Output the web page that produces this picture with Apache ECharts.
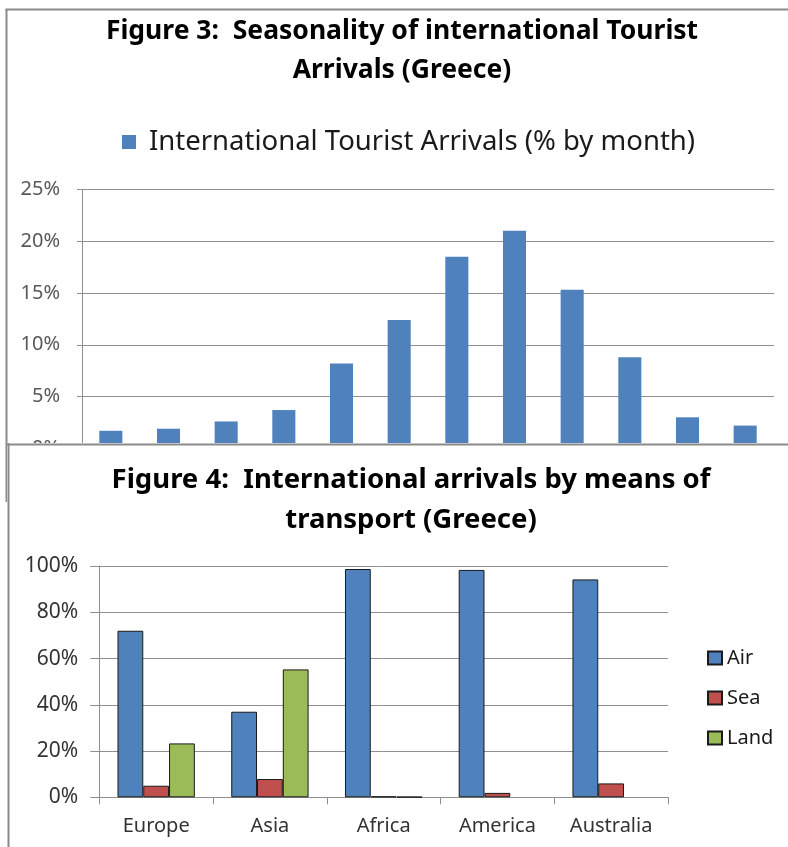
<!DOCTYPE html>
<html>
<head>
<meta charset="utf-8">
<script src="https://cdn.jsdelivr.net/npm/echarts@6/dist/echarts.min.js"></script>
<style>
  html, body { margin: 0; padding: 0; background: #fff; overflow: hidden; }
  #top { position: absolute; left: 0; top: 0; width: 788px; height: 502px; }
  #bottom { position: absolute; left: 7px; top: 443px; width: 781px; height: 404px; background: #fff; }
</style>
</head>
<body>
<div id="top"></div>
<div id="bottom"></div>
<script>
// ---------- Data ----------
const months = ['Jan', 'Feb', 'Mar', 'Apr', 'May', 'Jun', 'Jul', 'Aug', 'Sep', 'Oct', 'Nov', 'Dec'];
const arrivalsPct = [1.7, 1.9, 2.6, 3.7, 8.2, 12.4, 18.5, 21.0, 15.3, 8.8, 3.0, 2.2];
const topSeriesName = 'International Tourist Arrivals (% by month)';
const topAxisMax = 25;
const topAxisStep = 5;

const regions = ['Europe', 'Asia', 'Africa', 'America', 'Australia'];
const airPct = [72.0, 37.0, 98.7, 98.3, 94.2];
const seaPct = [5.0, 7.9, 0.4, 1.9, 6.0];
const landPct = [23.3, 55.3, 0.2, null, null];
const bottomAxisMax = 100;
const bottomAxisStep = 20;

const FONT = '"Noto Sans", "Open Sans", sans-serif';
const BORDER = '#8a8a8a';
const GRID = '#8f8f8f';

// ---------- Figure 3 ----------
const topChart = echarts.init(document.getElementById('top'), null, { renderer: 'canvas' });
topChart.setOption({
  animation: false,
  textStyle: { fontFamily: FONT },
  title: {
    text: 'Figure 3:  Seasonality of international Tourist\nArrivals (Greece)',
    left: 402,
    top: 12,
    padding: 0,
    textAlign: 'center',
    textStyle: { fontFamily: FONT, fontSize: 26.5, fontWeight: 'bold', color: '#000', lineHeight: 39 }
  },
  legend: {
    data: [topSeriesName],
    left: 117,
    top: 123,
    icon: 'rect',
    itemWidth: 14,
    itemHeight: 14,
    textStyle: { fontFamily: FONT, fontSize: 27.5, color: '#1a1a1a', padding: [0, 0, 0, 8] }
  },
  grid: { left: 82, top: 189.3, width: 692, height: 259.1, containLabel: false },
  xAxis: {
    type: 'category',
    data: months,
    axisLabel: { show: false },
    axisTick: { show: false },
    axisLine: { lineStyle: { color: BORDER, width: 1.5 } }
  },
  yAxis: {
    type: 'value',
    min: 0,
    max: topAxisMax,
    interval: topAxisStep,
    axisLabel: { formatter: '{value}%', fontFamily: FONT, fontSize: 20, color: '#595959', margin: 22 },
    axisLine: { show: true, lineStyle: { color: GRID } },
    axisTick: { show: true, length: 5, lineStyle: { color: GRID } },
    splitLine: { lineStyle: { color: GRID, width: 1 } }
  },
  series: [{
    name: topSeriesName,
    type: 'bar',
    data: arrivalsPct,
    barWidth: '40%',
    itemStyle: { color: '#4F81BD' }
  }],
  graphic: [
    { type: 'line', shape: { x1: 5.5, y1: 9.5, x2: 788, y2: 9.5 }, style: { stroke: BORDER, lineWidth: 2 }, z: 10 },
    { type: 'line', shape: { x1: 6.5, y1: 9, x2: 6.5, y2: 502 }, style: { stroke: BORDER, lineWidth: 2 }, z: 10 }
  ]
});

// ---------- Figure 4 ----------
const barBorder = { borderColor: '#1a1a1a', borderWidth: 1 };
const bottomChart = echarts.init(document.getElementById('bottom'), null, { renderer: 'canvas' });
bottomChart.setOption({
  animation: false,
  textStyle: { fontFamily: FONT },
  title: {
    text: 'Figure 4:  International arrivals by means of\ntransport (Greece)',
    left: 404,
    top: 17,
    padding: 0,
    textAlign: 'center',
    textStyle: { fontFamily: FONT, fontSize: 27.5, fontWeight: 'bold', color: '#000', lineHeight: 40 }
  },
  legend: {
    data: ['Air', 'Sea', 'Land'],
    orient: 'vertical',
    left: 695,
    top: 199,
    icon: 'rect',
    itemWidth: 14,
    itemHeight: 13,
    itemGap: 18,
    textStyle: { fontFamily: FONT, fontSize: 20, color: '#1a1a1a', lineHeight: 22 }
  },
  grid: { left: 92.3, top: 123, width: 568.7, height: 231.3, containLabel: false },
  xAxis: {
    type: 'category',
    data: regions,
    axisLabel: { fontFamily: FONT, fontSize: 20, color: '#333', margin: 19 },
    axisTick: { show: true, length: 7, lineStyle: { color: GRID } },
    axisLine: { lineStyle: { color: GRID, width: 1 } }
  },
  yAxis: {
    type: 'value',
    min: 0,
    max: bottomAxisMax,
    interval: bottomAxisStep,
    axisLabel: { formatter: '{value}%', fontFamily: FONT, fontSize: 21, color: '#333', margin: 21 },
    axisLine: { show: true, lineStyle: { color: GRID } },
    axisTick: { show: true, length: 9, lineStyle: { color: GRID } },
    splitLine: { lineStyle: { color: GRID, width: 1 } }
  },
  series: [
    { name: 'Air', type: 'bar', data: airPct, barGap: '0%', barCategoryGap: '32%', itemStyle: Object.assign({ color: '#4F81BD' }, barBorder) },
    { name: 'Sea', type: 'bar', data: seaPct, barGap: '0%', barCategoryGap: '32%', itemStyle: Object.assign({ color: '#C0504D' }, barBorder) },
    { name: 'Land', type: 'bar', data: landPct, barGap: '0%', barCategoryGap: '32%', itemStyle: Object.assign({ color: '#9BBB59' }, barBorder) }
  ],
  graphic: [
    { type: 'line', shape: { x1: 0, y1: 1.5, x2: 781, y2: 1.5 }, style: { stroke: BORDER, lineWidth: 2 }, z: 10 },
    { type: 'line', shape: { x1: 1.5, y1: 0, x2: 1.5, y2: 404 }, style: { stroke: BORDER, lineWidth: 2 }, z: 10 }
  ]
});
</script>
</body>
</html>
